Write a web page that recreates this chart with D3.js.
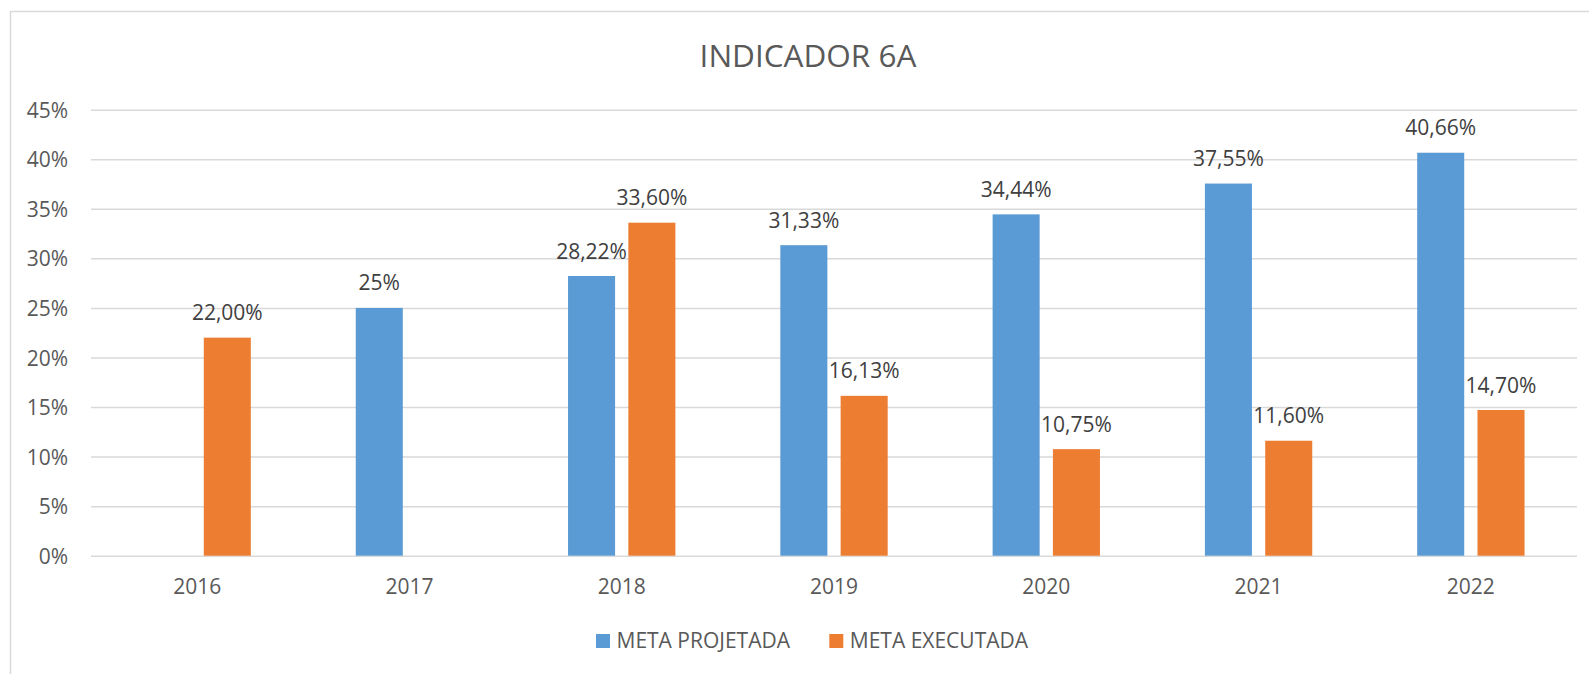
<!DOCTYPE html>
<html>
<head>
<meta charset="utf-8">
<script src="https://cdn.jsdelivr.net/npm/d3@7"></script>
<style>
  html, body { margin: 0; padding: 0; background: #fff; }
  svg { display: block; font-family: "Open Sans", "Noto Sans", sans-serif; }
</style>
</head>
<body>
<svg id="chart" width="1589" height="674"></svg>
<script>
const categories = ["2016", "2017", "2018", "2019", "2020", "2021", "2022"];
const seriesNames = ["META PROJETADA", "META EXECUTADA"];
const metaProjetada = [null, 25, 28.22, 31.33, 34.44, 37.55, 40.66];
const metaExecutada = [22.00, null, 33.60, 16.13, 10.75, 11.60, 14.70];
const projetadaLabels = ["", "25%", "28,22%", "31,33%", "34,44%", "37,55%", "40,66%"];
const executadaLabels = ["22,00%", "", "33,60%", "16,13%", "10,75%", "11,60%", "14,70%"];
const yTicks = [0, 5, 10, 15, 20, 25, 30, 35, 40, 45];
const colors = ["#5B9BD5", "#ED7D31"];

const svg = d3.select("#chart");

// chart border (top/left visible)
svg.append("rect")
  .attr("x", 10.5).attr("y", 11.5)
  .attr("width", 1620).attr("height", 700)
  .attr("fill", "none").attr("stroke", "#d9d9d9").attr("stroke-width", 1.5);

const plot = { left: 91, right: 1577, top: 109.7, bottom: 555.7 };

const x0 = d3.scaleBand().domain(categories).range([plot.left, plot.right]).paddingInner(0).paddingOuter(0);
const x1 = d3.scaleBand().domain(seriesNames).range([0, x0.bandwidth()]).paddingInner(0.22).paddingOuter(0.87);
const y = d3.scaleLinear().domain([0, 45]).range([plot.bottom, plot.top]);

// gridlines
const yAxis = d3.axisLeft(y).tickValues(yTicks).tickSize(-(plot.right - plot.left)).tickPadding(23).tickFormat(d => d + "%");
const gy = svg.append("g").attr("transform", `translate(${plot.left},0)`).call(yAxis)
  .attr("font-family", null).attr("font-size", null);
gy.select(".domain").remove();
gy.selectAll(".tick line").attr("stroke", "#d9d9d9").attr("stroke-width", 1.5);
gy.selectAll(".tick text").attr("fill", "#595959").style("font-size", "21px").attr("dy", "0.36em");

// x axis labels
const xAxis = d3.axisBottom(x0).tickSize(0).tickPadding(0);
const gx = svg.append("g").attr("transform", `translate(0,${plot.bottom})`).call(xAxis)
  .attr("font-family", null).attr("font-size", null);
gx.select(".domain").remove();
gx.selectAll(".tick text").attr("fill", "#595959").style("font-size", "21px").attr("dy", "0").attr("y", 38.5);

const series = [
  { name: seriesNames[0], values: metaProjetada, labels: projetadaLabels, color: colors[0] },
  { name: seriesNames[1], values: metaExecutada, labels: executadaLabels, color: colors[1] }
];

series.forEach(s => {
  const data = categories.map((c, i) => ({ c, v: s.values[i], l: s.labels[i] })).filter(d => d.v != null);
  svg.append("g").selectAll("rect").data(data).join("rect")
    .attr("x", d => x0(d.c) + x1(s.name))
    .attr("width", x1.bandwidth())
    .attr("y", d => y(d.v))
    .attr("height", d => y(0) - y(d.v))
    .attr("fill", s.color);
  svg.append("g").selectAll("text").data(data).join("text")
    .attr("x", d => x0(d.c) + x1(s.name) + x1.bandwidth() / 2)
    .attr("y", d => y(d.v) - 17.5)
    .attr("text-anchor", "middle")
    .attr("fill", "#404040")
    .style("font-size", "21px")
    .text(d => d.l);
});

// title
svg.append("text")
  .attr("x", 808).attr("y", 66.5)
  .attr("text-anchor", "middle")
  .attr("fill", "#595959")
  .style("font-size", "31.5px")
  .text("INDICADOR 6A");

// legend
const legendItems = [
  { name: seriesNames[0], color: colors[0], x: 596 },
  { name: seriesNames[1], color: colors[1], x: 829.3 }
];
const lg = svg.append("g");
legendItems.forEach(it => {
  lg.append("rect").attr("x", it.x).attr("y", 634).attr("width", 14).attr("height", 14).attr("fill", it.color);
  lg.append("text").attr("x", it.x + 20.5).attr("y", 648)
    .attr("fill", "#595959").style("font-size", "21px").text(it.name);
});
</script>
</body>
</html>
